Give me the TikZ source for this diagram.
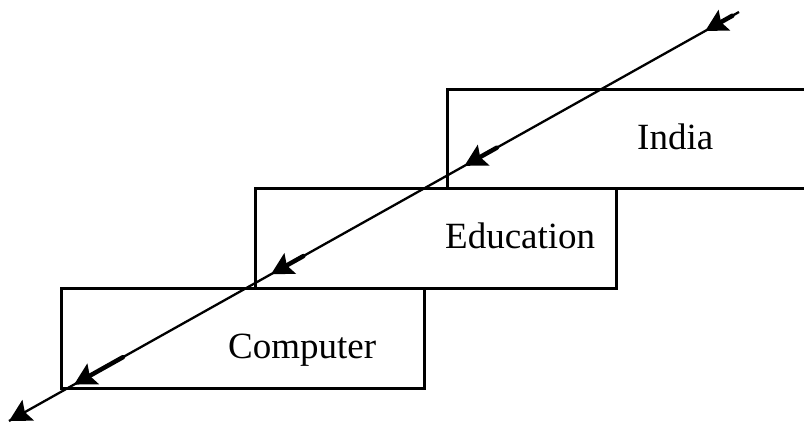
\documentclass[tikz,border=0pt]{standalone}
\usepackage{fontspec}
\setmainfont{Liberation Serif}
\usetikzlibrary{decorations.markings}

\tikzset{
    box/.style={line width=3pt},
    word/.style={anchor=base west, inner sep=0pt, font=\fontsize{37}{40}\selectfont},
    shaft/.style={line width=4.5pt, line cap=round},
}
% filled arrow head, tip at the mark point
\newcommand{\headmark}{\fill (1pt,0) -- (-21pt,12pt) -- (-17pt,0) -- (-21pt,-12pt) -- cycle;}

\begin{document}
\begin{tikzpicture}[x=1pt, y=-1pt]
    \useasboundingbox (0,0) rectangle (804,423);
    \clip (0,0) rectangle (804,423);

    % Boxes
    \draw[box] (447,89) rectangle (820,188);
    \draw[box] (255,188) rectangle (616,288);
    \draw[box] (61,288) rectangle (424,388);

    % Labels
    \node[word] (india) at (637,149) {India};
    \node[word] (education) at (445,248) {Education};
    \node[word] (computer) at (228,358) {Computer};

    % Diagonal line
    \coordinate (top) at (739,12);
    \coordinate (bottom) at (9,421);
    \draw[line width=2.3pt,
        decoration={markings,
            mark=at position 0.045 with {\draw[shaft] (-30pt,0) -- (-14pt,0); \headmark},
            mark=at position 0.375 with {\draw[shaft] (-36pt,0) -- (-14pt,0); \headmark},
            mark=at position 0.640 with {\draw[shaft] (-36pt,0) -- (-14pt,0); \headmark},
            mark=at position 0.910 with {\draw[shaft] (-55pt,0) -- (-14pt,0); \headmark},
            mark=at position 0.999 with {\headmark}},
        postaction={decorate}] (top) -- (bottom);
\end{tikzpicture}
\end{document}
